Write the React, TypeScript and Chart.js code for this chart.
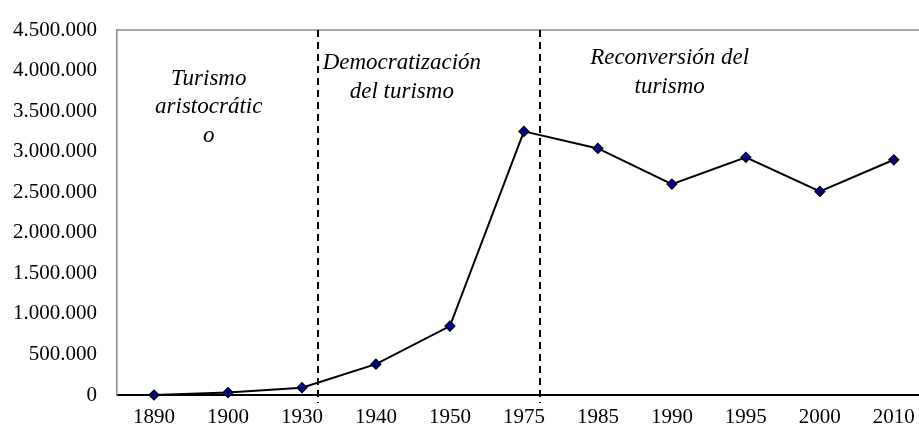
import React, { useEffect, useRef } from "react";
import { Chart, registerables } from "chart.js";

Chart.register(...registerables);

const years = ["1890", "1900", "1930", "1940", "1950", "1975", "1985", "1990", "1995", "2000", "2010"];
const visitors = [0, 30000, 90000, 380000, 850000, 3250000, 3040000, 2600000, 2930000, 2510000, 2900000];
const yMax = 4500000;
const yStep = 500000;
// period dividers, in category-index units
const dividerPositions = [2.21, 5.22];
// period titles and their anchors (category-index units, data units)
const periodTitles = [
  ["Turismo", "aristocrátic", "o"],
  ["Democratización", "del turismo"],
  ["Reconversión del", "turismo"],
];
const periodTitleX = [0.74, 3.35, 6.97];
const periodTitleY = [3900000, 4090000, 4155000];

const fmt = (v: number) => String(Math.round(v)).replace(/\B(?=(\d{3})+(?!\d))/g, ".");

const overlayPlugin = {
  id: "overlay",
  afterDatasetsDraw(chart: any) {
    const { ctx, chartArea, scales } = chart;
    const x = scales.x;
    const y = scales.y;
    ctx.save();
    // top border
    ctx.strokeStyle = "#8a8a8a";
    ctx.lineWidth = 1.5;
    ctx.beginPath();
    ctx.moveTo(chartArea.left, chartArea.top);
    ctx.lineTo(chartArea.right, chartArea.top);
    ctx.stroke();
    // dashed dividers
    ctx.strokeStyle = "#000";
    ctx.lineWidth = 2;
    ctx.setLineDash([7, 5]);
    dividerPositions.forEach((p) => {
      const px = Math.round(x.getPixelForValue(p));
      ctx.beginPath();
      ctx.moveTo(px, chartArea.top);
      ctx.lineTo(px, chartArea.bottom + 8);
      ctx.stroke();
    });
    ctx.setLineDash([]);
    // titles
    ctx.fillStyle = "#000";
    ctx.font = 'italic 23px "Liberation Serif", "Times New Roman", serif';
    ctx.textAlign = "center";
    ctx.textBaseline = "middle";
    periodTitles.forEach((lines, i) => {
      const px = x.getPixelForValue(periodTitleX[i]);
      const py = y.getPixelForValue(periodTitleY[i]);
      lines.forEach((ln, j) => ctx.fillText(ln, px, py + j * 28.5));
    });
    ctx.restore();
  },
};

export default function App() {
  const ref = useRef<HTMLCanvasElement>(null);
  useEffect(() => {
    if (!ref.current) return;
    const chart = new Chart(ref.current, {
      type: "line",
      data: {
        datasets: [
          {
            data: visitors.map((v, i) => ({ x: i, y: v })),
            borderColor: "#000",
            borderWidth: 2,
            pointStyle: "rectRot",
            pointRadius: 5,
            pointBackgroundColor: "#00008f",
            pointBorderColor: "#000",
            pointBorderWidth: 1.2,
            tension: 0,
            clip: 10,
          },
        ],
      },
      options: {
        animation: false,
        responsive: false,
        layout: { autoPadding: false, padding: { top: 30, left: 0, right: 0, bottom: 0 } },
        plugins: { legend: { display: false }, tooltip: { enabled: false } },
        scales: {
          x: {
            type: "linear",
            min: -0.5,
            max: 10.34,
            afterFit: (s: any) => {
              s.height = 33;
              s.paddingLeft = 0;
              s.paddingRight = 0;
            },
            afterBuildTicks: (s: any) => {
              s.ticks = years.map((_, i) => ({ value: i }));
            },
            ticks: {
              callback: (v: any) => years[Math.round(v)] ?? "",
              color: "#000",
              font: { family: '"Liberation Serif", "Times New Roman", serif', size: 21 },
              padding: 10,
              maxRotation: 0,
              autoSkip: false,
            },
            grid: { display: false, drawTicks: false },
            border: { color: "#000", width: 2 },
          },
          y: {
            min: 0,
            max: yMax,
            afterFit: (s: any) => {
              s.width = 117;
              s.paddingTop = 0;
              s.paddingBottom = 0;
            },
            ticks: {
              stepSize: yStep,
              callback: (v: any) => fmt(Number(v)),
              color: "#000",
              font: { family: '"Liberation Serif", "Times New Roman", serif', size: 21 },
              padding: 20,
            },
            grid: { display: false, drawTicks: false },
            border: { color: "#8a8a8a", width: 1.5 },
          },
        },
      },
      plugins: [overlayPlugin],
    });
    return () => chart.destroy();
  }, []);
  return (
    <div style={{ position: "fixed", left: 0, top: 0, width: 919, height: 428, background: "#fff" }}>
      <canvas ref={ref} width={919} height={428} style={{ display: "block", width: 919, height: 428 }} />
    </div>
  );
}
